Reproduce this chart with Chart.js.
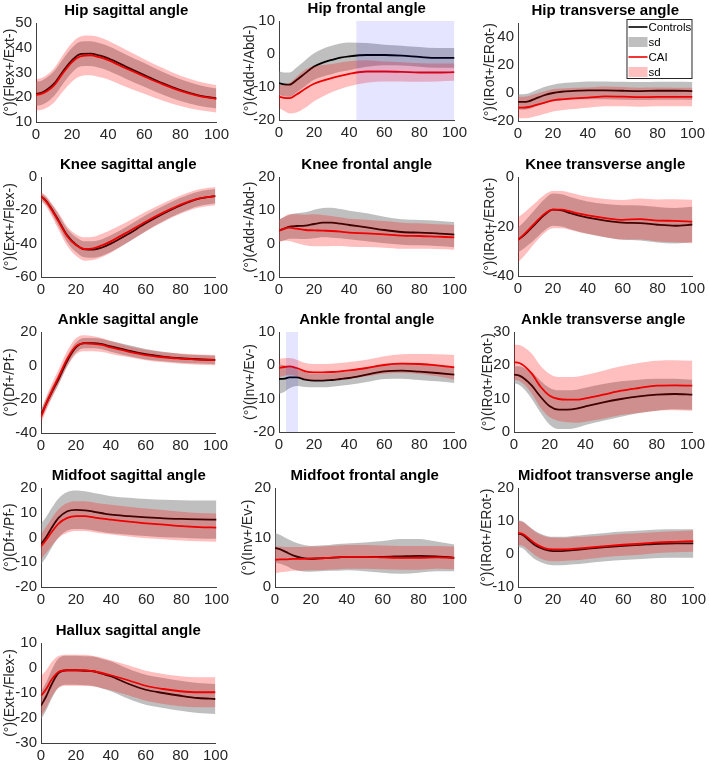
<!DOCTYPE html>
<html><head><meta charset="utf-8">
<script src="https://cdn.jsdelivr.net/npm/chart.js@4.4.1/dist/chart.umd.min.js"></script>
<style>
html,body{margin:0;padding:0;background:#fff;}
#wrap{position:relative;width:709px;height:763px;overflow:hidden;background:#fff;}
canvas{position:absolute;}
</style></head><body><div id="wrap"></div>
<script>
// ---------- DATA ----------
const X = [0,3,6,10,15,20,25,30,35,40,50,60,70,80,90,100];
const xTicks = [0,20,40,60,80,100];
const legendLabels = ['Controls','sd','CAI','sd'];

const hipSagCtrl   = [21.4,21.8,23,25.5,30.5,35,37.5,37.6,36.9,35.7,32.3,29,25.7,22.9,20.8,19.5];
const hipSagCtrlSd = [4.9,4.9,5,5,5,5,5,5,5,5,4.9,4.8,4.6,4.4,4.2,4];
const hipSagCai    = [21,21.4,22.4,24.8,29.8,34.2,36.6,36.9,36.2,35,31.6,28.4,25.3,22.6,20.6,19.3];
const hipSagCaiSd  = [6.3,6.4,6.6,6.9,7.4,7.8,8,8,8,7.8,7.5,7,6.6,6.1,5.8,5.5];
const hipSagTicks  = [10,20,30,40,50];

const hipFroCtrl   = [-8.8,-9.2,-9.3,-7.9,-5.8,-3.8,-2.6,-1.8,-1.1,-0.7,-0.3,-0.3,-0.5,-0.9,-1.2,-1.2];
const hipFroCtrlSd = [3.6,3.6,3.7,3.8,3.9,4,4.2,4.3,4.3,4.2,3.6,3.1,3,3,3,3];
const hipFroCai    = [-12.9,-13.3,-13.4,-12.3,-10.5,-9,-8.1,-7.3,-6.6,-6,-5.3,-5.3,-5.4,-5.6,-5.6,-5.5];
const hipFroCaiSd  = [3.5,4,4.6,5.4,5.8,5.3,4.8,4.3,4,3.8,3.4,3,2.9,2.8,2.7,2.6];
const hipFroTicks  = [-20,-10,0,10];
const hipFroShade  = [44,100];

const hipTraCtrl   = [-6.4,-6.4,-6,-4,-1.6,0,0.9,1.4,1.7,1.9,1.9,1.6,1.4,1.6,1.6,1.4];
const hipTraCtrlSd = [5.5,5.5,5.6,5.7,5.8,5.9,6,6.1,6.2,6.3,6.4,6.4,6.4,6.4,6.4,6.4];
const hipTraCai    = [-10.4,-10.4,-10,-8.7,-7,-5.2,-4.5,-4,-3.6,-3.3,-2.4,-2.6,-3,-2.8,-2.8,-2.8];
const hipTraCaiSd  = [7.7,7.7,7.8,7.9,8,8,7.8,7.6,7.4,7.2,7,6.9,6.8,6.7,6.6,6.6];
const hipTraTicks  = [-20,0,20,40];

const kneSagCtrl   = [-11.6,-14.4,-19,-26,-35,-40.5,-43.4,-43.5,-42.3,-40,-34.2,-27.8,-22,-17,-13.2,-11.5];
const kneSagCtrlSd = [2,2.3,2.8,3.5,4,4.5,4.8,5,5,5,5,4.8,4.6,4.5,4.4,4.3];
const kneSagCai    = [-11.6,-14.6,-19.4,-26.5,-35.5,-40.8,-43.2,-42.8,-41,-38.6,-32.8,-26.8,-21.4,-16.6,-13,-11.5];
const kneSagCaiSd  = [2.7,3.2,3.8,5,5.8,6.5,7,7,7,6.8,6.2,5.9,5.6,5.5,5.5,5.5];
const kneSagTicks  = [-60,-40,-20,0];

const kneFroCtrl   = [3.9,4.5,5.1,5.3,5.4,5.9,6.3,6.3,6,5.6,4.9,4.1,3.5,3.3,3.1,2.7];
const kneFroCtrlSd = [3.3,3.5,3.6,3.8,4,4.3,4.4,4.5,4.4,4.3,4.2,4,3.8,3.8,3.8,3.8];
const kneFroCai    = [3.9,4.5,4.8,4.5,4.1,4,3.9,3.8,3.6,3.3,3.1,2.8,2.4,2.3,2.1,1.9];
const kneFroCaiSd  = [3.3,3.6,4,4.3,4.6,4.8,4.7,4.5,4.3,4.2,4.1,4,3.9,3.8,3.7,3.7];
const kneFroTicks  = [-10,0,10,20];

const kneTraCtrl   = [-25.4,-23.8,-21.8,-18.9,-15.4,-13.2,-13.5,-14.6,-15.6,-16.4,-17.6,-18.4,-18.6,-19.3,-19.7,-19.2];
const kneTraCtrlSd = [5,5.3,5.6,6,6.3,6.5,6.5,6.5,6.5,6.5,6.7,7,7.1,7.2,7.2,7.2];
const kneTraCai    = [-25.4,-23.5,-21.4,-18.4,-15,-13.2,-13.2,-13.9,-14.8,-15.5,-16.6,-17.3,-17,-17.6,-17.7,-18];
const kneTraCaiSd  = [9,8.8,8.5,8,7.7,7.5,7.5,7.5,7.5,7.5,7.7,8,8.3,8.5,8.7,8.8];
const kneTraTicks  = [-40,-20,0];

const ankSagCtrl   = [-29.5,-22.5,-16.1,-8.1,2.8,10.8,13.4,13.4,12.8,11.4,9,6.8,5.4,4.4,3.8,3.4];
const ankSagCtrlSd = [3,3,3,3,3,3,3,3,3.1,3.2,3.3,3.1,2.8,2.6,2.5,2.5];
const ankSagCai    = [-30.5,-22.5,-15.5,-7,4,11.5,13.3,13,12.3,10.8,8.4,6.3,5,4.2,3.6,3.3];
const ankSagCaiSd  = [4,4.2,4.3,4.5,4.7,4.8,4.8,4.5,4.2,3.8,3.3,3.1,3,3,3,3];
const ankSagTicks  = [-40,-20,0,20];

const ankFroCtrl   = [-4.1,-4,-3.6,-3.6,-4.3,-4.6,-4.6,-4.4,-4.1,-3.8,-2.8,-1.8,-1.6,-1.9,-2.3,-2.8];
const ankFroCtrlSd = [4.5,4,3.3,2.6,2.2,2,2,2,2,2,2.2,2.3,2.4,2.5,2.5,2.5];
const ankFroCai    = [-0.8,-0.5,-0.3,-0.8,-1.8,-2.1,-2.1,-2,-1.8,-1.5,-0.8,0.1,0.5,0.4,0,-0.6];
const ankFroCaiSd  = [2.7,2.6,2.5,2.5,2.5,2.5,2.5,2.5,2.5,2.5,2.5,2.6,2.8,3,3.3,3.7];
const ankFroTicks  = [-20,-10,0,10];
const ankFroShade  = [4,11];

const ankTraCtrl   = [17.2,16.9,15.9,13.9,10.5,7.7,6.7,6.7,7,7.7,8.9,9.9,10.7,11.2,11.4,11.2];
const ankTraCtrlSd = [2.5,2.8,3.2,4,4.8,5.5,5.8,5.8,5.7,5.6,5.5,5.3,5,4.8,4.6,4.5];
const ankTraCai    = [20.9,20.7,19.7,17.5,13.5,10.9,9.9,9.7,9.7,10.1,11.2,12.4,13.2,13.9,14,13.9];
const ankTraCaiSd  = [5.3,5.4,5.6,6,6.3,6.5,6.6,6.8,6.9,7,7.2,7.3,7.5,7.5,7.5,7.5];
const ankTraTicks  = [0,10,20,30];

const midSagCtrl   = [-2.6,0.2,3.8,7.9,10.6,11.2,11,10.4,9.8,9.2,8.6,8.1,7.7,7.5,7.3,7.2];
const midSagCtrlSd = [8.2,8.1,8,7.9,7.8,7.8,7.7,7.6,7.6,7.5,7.5,7.5,7.6,7.6,7.7,7.7];
const midSagCai    = [-3.6,-0.9,2.1,5.6,7.9,8.6,8.6,8.1,7.6,7.2,6.4,5.7,5.2,4.6,4.2,4];
const midSagCaiSd  = [5,5.3,5.5,5.8,6,6,6,6,6,6,6,6,5.9,5.8,5.7,5.7];
const midSagTicks  = [-20,-10,0,10,20];

const midFroCtrl   = [7.9,7.6,7.1,6.4,5.9,5.7,5.8,5.9,6,6.1,6.1,6.1,6.2,6.3,6.2,5.9];
const midFroCtrlSd = [3,2.9,2.8,2.8,2.7,2.6,2.6,2.6,2.7,2.7,2.9,3.2,3.5,3.4,3,2.7];
const midFroCai    = [5.5,5.6,5.6,5.7,5.7,5.8,5.8,5.9,6,6.1,6.1,6,5.9,5.9,6,5.9];
const midFroCaiSd  = [2.7,2.6,2.5,2.4,2.4,2.4,2.4,2.4,2.4,2.4,2.4,2.4,2.4,2.4,2.3,2.3];
const midFroTicks  = [0,10,20];

const midTraCtrl   = [6.2,5.7,4.3,2.6,1.4,0.9,0.9,1.1,1.3,1.6,2.1,2.5,2.8,3.1,3.2,3.2];
const midTraCtrlSd = [4,4.1,4.2,4.3,4.3,4.3,4.3,4.3,4.3,4.3,4.3,4.3,4.3,4.3,4.3,4.3];
const midTraCai    = [6.4,6,4.8,3.1,1.8,1.4,1.4,1.5,1.7,1.9,2.4,2.8,3.1,3.5,3.7,3.9];
const midTraCaiSd  = [3.6,3.6,3.6,3.6,3.6,3.6,3.5,3.5,3.5,3.4,3.3,3.3,3.3,3.2,3.2,3.2];
const midTraTicks  = [-10,0,10,20];

const halSagCtrl   = [-15.1,-11.3,-6.7,-2,-0.9,-0.9,-1.1,-1.3,-2.3,-3.3,-6.3,-8.7,-10,-11.1,-12,-12.4];
const halSagCtrlSd = [5.5,5.6,5.7,5.8,5.8,5.8,5.8,5.9,5.9,6,6,6,6,6,6,6];
const halSagCai    = [-11.1,-8.4,-4.7,-1.6,-0.9,-0.9,-0.9,-1.3,-2,-2.9,-4.9,-7.1,-8.4,-9.3,-9.7,-9.7];
const halSagCaiSd  = [8,7.5,7,6.4,6.2,6.2,6.2,6.1,6.1,6,6,6,6,6,6,6];
const halSagTicks  = [-30,-20,-10,0,10];

// ---------- PANELS (content) ----------
const panels = [
 {title:'Hip sagittal angle',      yLabel:'(°)(Flex+/Ext-)', ticks:hipSagTicks, c:hipSagCtrl, cs:hipSagCtrlSd, r:hipSagCai, rs:hipSagCaiSd},
 {title:'Hip frontal angle',       yLabel:'(°)(Add+/Abd-)',  ticks:hipFroTicks, c:hipFroCtrl, cs:hipFroCtrlSd, r:hipFroCai, rs:hipFroCaiSd, shade:hipFroShade},
 {title:'Hip transverse angle',    yLabel:'(°)(IRot+/ERot-)', ticks:hipTraTicks, yMax:50, c:hipTraCtrl, cs:hipTraCtrlSd, r:hipTraCai, rs:hipTraCaiSd, legend:true},
 {title:'Knee sagittal angle',     yLabel:'(°)(Ext+/Flex-)', ticks:kneSagTicks, c:kneSagCtrl, cs:kneSagCtrlSd, r:kneSagCai, rs:kneSagCaiSd},
 {title:'Knee frontal angle',      yLabel:'(°)(Add+/Abd-)',  ticks:kneFroTicks, c:kneFroCtrl, cs:kneFroCtrlSd, r:kneFroCai, rs:kneFroCaiSd},
 {title:'Knee transverse angle',   yLabel:'(°)(IRot+/ERot-)', ticks:kneTraTicks, c:kneTraCtrl, cs:kneTraCtrlSd, r:kneTraCai, rs:kneTraCaiSd},
 {title:'Ankle sagittal angle',    yLabel:'(°)(Df+/Pf-)',    ticks:ankSagTicks, c:ankSagCtrl, cs:ankSagCtrlSd, r:ankSagCai, rs:ankSagCaiSd},
 {title:'Ankle frontal angle',     yLabel:'(°)(Inv+/Ev-)',   ticks:ankFroTicks, c:ankFroCtrl, cs:ankFroCtrlSd, r:ankFroCai, rs:ankFroCaiSd, shade:ankFroShade},
 {title:'Ankle transverse angle',  yLabel:'(°)(IRot+/ERot-)', ticks:ankTraTicks, c:ankTraCtrl, cs:ankTraCtrlSd, r:ankTraCai, rs:ankTraCaiSd},
 {title:'Midfoot sagittal angle',  yLabel:'(°)(Df+/Pf-)',    ticks:midSagTicks, c:midSagCtrl, cs:midSagCtrlSd, r:midSagCai, rs:midSagCaiSd},
 {title:'Midfoot frontal angle',   yLabel:'(°)(Inv+/Ev-)',   ticks:midFroTicks, c:midFroCtrl, cs:midFroCtrlSd, r:midFroCai, rs:midFroCaiSd},
 {title:'Midfoot transverse angle',yLabel:'(°)(IRot+/ERot-)', ticks:midTraTicks, c:midTraCtrl, cs:midTraCtrlSd, r:midTraCai, rs:midTraCaiSd},
 {title:'Hallux sagittal angle',   yLabel:'(°)(Ext+/Flex-)', ticks:halSagTicks, c:halSagCtrl, cs:halSagCtrlSd, r:halSagCai, rs:halSagCaiSd}
];

// ---------- LAYOUT (plot-area boxes in page pixels: left, top, right, bottom; y-label centre x) ----------
const boxes = [
 [36,23,217,122,10],[279,21,455,120,250],[518,23,693,121,490],
 [41,177,216,277,10],[279,177,455,277,250],[518,177,693,276,490],
 [41,332,216,433,10],[279,332,455,432,250],[514,332,693,432,488],
 [41,488,217,587,10],[275,488,455,587,248],[518,488,694,587,487],
 [41,643,216,743,10]
];

// ---------- STYLE ----------
const FONT = '"Liberation Sans", Arial, Helvetica, sans-serif';
const GRAY = 'rgba(128,128,128,0.5)';
const PINK = 'rgba(255,0,0,0.25)';
const BLACK = '#000000';
const RED = '#ee0000';
const BLUE = 'rgba(0,0,255,0.10)';
const TICKC = '#262626';
const AXC = '#404040';
const TITLE_H = 21, XAX_H = 22, PAD_R = 16;

const legendBox = {
  id: 'legendBox',
  afterDraw(chart) {
    const {ctx, chartArea: a} = chart;
    const w = 66, h = 60, x = a.right - w, y = a.top - 4;
    ctx.save();
    ctx.fillStyle = '#fff'; ctx.fillRect(x, y, w, h);
    ctx.strokeStyle = TICKC; ctx.lineWidth = 1; ctx.strokeRect(x + 0.5, y + 0.5, w - 1, h - 1);
    const kinds = [{line: BLACK}, {patch: GRAY}, {line: RED}, {patch: PINK}];
    ctx.font = '11.5px ' + FONT; ctx.textBaseline = 'middle'; ctx.textAlign = 'left';
    kinds.forEach((it, k) => {
      const cy = y + 8 + k * 15;
      if (it.line) {
        ctx.strokeStyle = it.line; ctx.lineWidth = 1.6;
        ctx.beginPath(); ctx.moveTo(x + 2, cy); ctx.lineTo(x + 21, cy); ctx.stroke();
      } else {
        ctx.fillStyle = it.patch; ctx.fillRect(x + 2, cy - 5, 19, 10);
      }
      ctx.fillStyle = '#000'; ctx.fillText(legendLabels[k], x + 22, cy + 0.5);
    });
    ctx.restore();
  }
};

const wrap = document.getElementById('wrap');
const pts = (m, s, sign) => m.map((v, k) => ({x: X[k], y: v + sign * s[k]}));
const band = (data, color, fill, order) => ({data, fill, backgroundColor: color, borderColor: 'rgba(0,0,0,0)',
  borderWidth: 0, pointRadius: 0, cubicInterpolationMode: 'monotone', order});
const line = (data, color, order) => ({data, fill: false, borderColor: color, borderWidth: 1.8,
  pointRadius: 0, cubicInterpolationMode: 'monotone', order});

panels.forEach((p, i) => {
  const [L, T, R, B, lc] = boxes[i];
  const cl = Math.round(lc - 8.4);
  const yW = L - cl;
  const ct = T - TITLE_H;
  const w = R - cl + PAD_R;
  const h = B - ct + XAX_H;
  const cv = document.createElement('canvas');
  cv.width = w; cv.height = h;
  cv.style.left = cl + 'px'; cv.style.top = ct + 'px';
  cv.style.width = w + 'px'; cv.style.height = h + 'px';
  wrap.appendChild(cv);
  const yMin = p.ticks[0];
  const yMax = p.yMax !== undefined ? p.yMax : p.ticks[p.ticks.length - 1];
  const datasets = [
    band(pts(p.c, p.cs, 1), GRAY, '+1', 4),
    band(pts(p.c, p.cs, -1), GRAY, false, 4),
    band(pts(p.r, p.rs, 1), PINK, '+1', 2),
    band(pts(p.r, p.rs, -1), PINK, false, 2),
    line(p.c.map((v, k) => ({x: X[k], y: v})), BLACK, 3),
    line(p.r.map((v, k) => ({x: X[k], y: v})), RED, 1)
  ];
  if (p.shade) {
    datasets.push({data: p.shade.map(v => ({x: v, y: yMax})), fill: 'start', backgroundColor: BLUE,
      borderColor: 'rgba(0,0,0,0)', borderWidth: 0, pointRadius: 0, tension: 0, order: 0});
  }
  new Chart(cv, {
    type: 'line',
    data: {datasets},
    plugins: p.legend ? [legendBox] : [],
    options: {
      responsive: false, animation: false, events: [],
      layout: {padding: {left: 0, right: PAD_R, top: 0, bottom: 0}},
      plugins: {
        legend: {display: false}, tooltip: {enabled: false},
        title: {display: true, text: p.title, fullSize: false, color: '#000',
                font: {family: FONT, size: 15, weight: 'bold', lineHeight: 1.2}, padding: {top: 0, bottom: 3}}
      },
      scales: {
        x: {type: 'linear', min: 0, max: 100,
            afterBuildTicks: ax => { ax.ticks = xTicks.map(v => ({value: v})); },
            afterFit: s => { s.height = XAX_H; },
            grid: {display: false, drawTicks: false},
            border: {display: true, color: AXC, width: 1},
            ticks: {font: {family: FONT, size: 15}, color: TICKC, padding: 4, maxRotation: 0, autoSkip: false}},
        y: {type: 'linear', min: yMin, max: yMax,
            afterBuildTicks: ax => { ax.ticks = p.ticks.map(v => ({value: v})); },
            afterFit: s => { s.width = yW; },
            grid: {display: false, drawTicks: false},
            border: {display: true, color: AXC, width: 1},
            ticks: {font: {family: FONT, size: 15}, color: TICKC, padding: 4, autoSkip: false},
            title: {display: true, text: p.yLabel, color: TICKC, font: {family: FONT, size: 14}, padding: 0}}
      }
    }
  });
});
</script>
</body></html>
